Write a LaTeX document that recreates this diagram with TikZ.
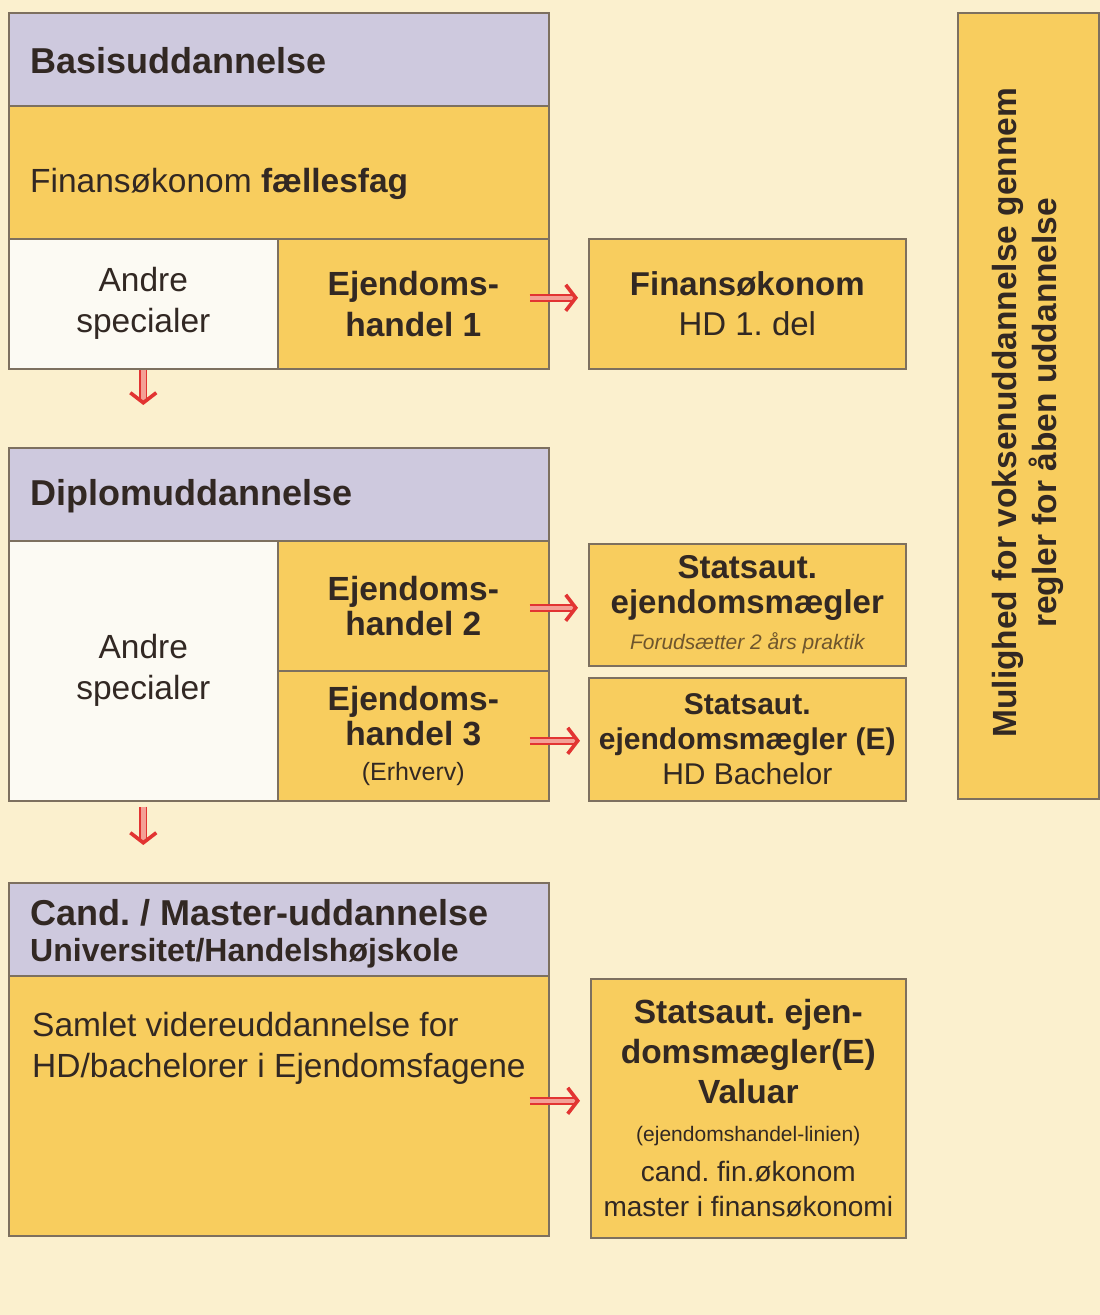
\documentclass[tikz,border=0pt]{standalone}
\usepackage{fontspec}
\setmainfont{Liberation Sans}
\usetikzlibrary{arrows.meta,positioning}

\definecolor{papir}{RGB}{251,240,206}
\definecolor{gul}{RGB}{248,205,94}
\definecolor{lilla}{RGB}{206,201,222}
\definecolor{hvid}{RGB}{252,250,243}
\definecolor{kant}{RGB}{125,112,95}
\definecolor{blaek}{RGB}{50,40,35}
\definecolor{brun}{RGB}{110,85,45}
\definecolor{pil}{RGB}{226,52,50}
\definecolor{pilinde}{RGB}{244,160,150}

\newcommand\hovedskrift{\fontsize{36pt}{42pt}\selectfont\bfseries}
\newcommand\brodskrift{\fontsize{33.5pt}{41pt}\selectfont}
\frenchspacing

\tikzset{
  felt/.style 2 args={
    draw=kant, line width=1.6pt,
    anchor=north west, inner sep=0pt,
    minimum width=#1pt, minimum height=#2pt,
    text width=#1pt, align=flush center,
    text=blaek, font=\brodskrift
  },
  gulfelt/.style={fill=gul},
  hvidfelt/.style={fill=hvid},
  hoved/.style={fill=lilla},
  hovedtekst/.style={anchor=base west, inner sep=0pt, text=blaek, font=\hovedskrift},
  dpil/.style={draw=pil, double=pilinde, line width=1.8pt,
    double distance=4.5pt,
    -{Straight Barb[length=10pt,width=26pt,line width=3.6pt]}}
}

\begin{document}
\begin{tikzpicture}[x=1pt,y=-1pt]
\fill[papir] (0,0) rectangle (1100,1315);
\useasboundingbox (0,0) rectangle (1100,1315);

% Basisuddannelse
\node[felt={540}{93},hoved] (basis) at (8,12) {};
\node[hovedtekst] (basistekst) at (30,73) {Basisuddannelse};
\node[felt={540}{133},gulfelt] (faelles) at (8,105) {};
\node[anchor=base west, inner sep=0pt, text=blaek, font=\brodskrift]
  (faellestekst) at (30,192) {Finansøkonom \textbf{fællesfag}};
\node[felt={269}{130},hvidfelt] (andre1) at (8,238) {Andre\\specialer};
\node[felt={271}{130},gulfelt] (ejd1) at (277,238)
  {\bfseries Ejendoms-\\handel 1\par};
\node[felt={317}{130},gulfelt,font=\fontsize{33pt}{40pt}\selectfont] (hd1) at (588,238)
  {{\bfseries Finansøkonom\par}HD 1. del\par};

% Diplomuddannelse
\node[felt={540}{93},hoved] (diplom) at (8,447) {};
\node[hovedtekst] (diplomtekst) at (30,505) {Diplomuddannelse};
\node[felt={269}{260},hvidfelt] (andre2) at (8,540) {Andre\\specialer};
\node[felt={271}{130},gulfelt,font=\fontsize{33.5pt}{35pt}\selectfont] (ejd2) at (277,540)
  {\bfseries Ejendoms-\\handel 2\par};
\node[felt={271}{130},gulfelt,font=\fontsize{33.5pt}{35pt}\selectfont] (ejd3) at (277,670)
  {{\bfseries Ejendoms-\\handel 3\par}{\fontsize{25pt}{35pt}\selectfont (Erhverv)\par}};
\node[felt={317}{122},gulfelt,font=\fontsize{33pt}{35pt}\selectfont] (maegler) at (588,543)
  {{\bfseries Statsaut.\\ejendomsmægler\par}%
   {\itshape\color{brun}\fontsize{21pt}{36pt}\selectfont Forudsætter 2 års praktik\par}};
\node[felt={317}{123},gulfelt,font=\fontsize{30pt}{35pt}\selectfont] (maeglerE) at (588,677)
  {{\bfseries Statsaut.\\ejendomsmægler (E)\par}HD Bachelor\par};

% Cand. / Master
\node[felt={540}{93},hoved] (cand) at (8,882) {};
\node[hovedtekst] (candtekst) at (30,925) {Cand. / Master-uddannelse};
\node[hovedtekst,font=\fontsize{32pt}{38pt}\selectfont\bfseries] (unitekst) at (30,961)
  {Universitet/Handelshøjskole};
\node[felt={540}{260},gulfelt] (samlet) at (8,975) {};
\node[anchor=north west, inner sep=0pt, text=blaek, font=\brodskrift, align=left]
  (samlettekst) at (32,1012)
  {Samlet videreuddannelse for\\HD/bachelorer i Ejendomsfagene};
\node[felt={315}{259},gulfelt,font=\fontsize{33.5pt}{40pt}\selectfont] (valuar) at (590,978)
  {{\bfseries Statsaut. ejen-\\domsmægler(E)\\Valuar\par}%
   {\fontsize{21pt}{38pt}\selectfont (ejendomshandel-linien)\par}%
   {\fontsize{28pt}{40pt}\selectfont cand. fin.økonom\par}%
   {\fontsize{28pt}{35pt}\selectfont master i finansøkonomi\par}};

% aaben uddannelse
\node[felt={141}{786},gulfelt] (aaben) at (957,12) {};
\node[rotate=90, inner sep=0pt, align=center, text=blaek,
  font=\fontsize{33.5pt}{40pt}\selectfont\bfseries]
  (aabentekst) at ([yshift=-7pt]aaben.center)
  {Mulighed for voksenuddannelse gennem\\regler for åben uddannelse};

% pile
\coordinate (p1) at ([xshift=-20pt,yshift=6pt]ejd1.east);
\coordinate (p2) at ([xshift=-20pt,yshift=-2pt]ejd2.east);
\coordinate (p3) at ([xshift=-20pt,yshift=-5pt]ejd3.east);
\coordinate (p4) at ([xshift=-20pt,yshift=5pt]samlet.east);
\draw[dpil,shorten >=10pt] (p1) -- (p1 -| hd1.west);
\draw[dpil,shorten >=10pt] (p2) -- (p2 -| maegler.west);
\draw[dpil,shorten >=8pt] (p3) -- (p3 -| maeglerE.west);
\draw[dpil,shorten >=10pt] (p4) -- (p4 -| valuar.west);
\draw[dpil,shorten >=42pt] (andre1.south) -- (andre1.south |- diplom.north);
\draw[dpil,shorten <=5pt,shorten >=37pt] (andre2.south) -- (andre2.south |- cand.north);
\end{tikzpicture}
\end{document}
